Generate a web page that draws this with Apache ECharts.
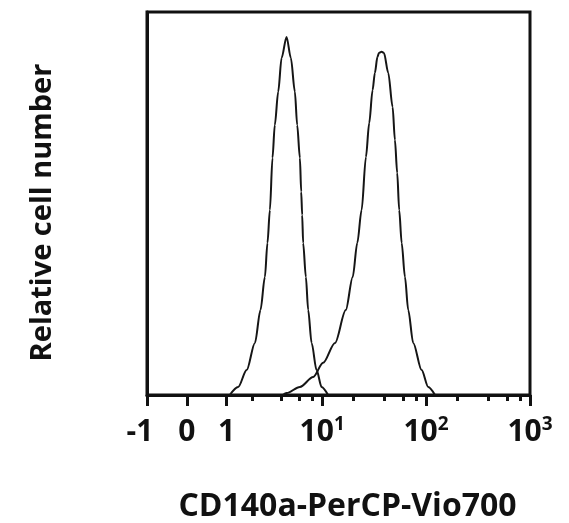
<!DOCTYPE html>
<html>
<head>
<meta charset="utf-8">
<script src="https://cdn.jsdelivr.net/npm/echarts@6/dist/echarts.min.js"></script>
<style>html,body{margin:0;padding:0;background:#fff;}#c{width:569px;height:523px;}</style>
</head>
<body>
<div id="c"></div>
<script>
// Fluorescence intensity (linear units) and relative cell number (% of plot height)
const leftX = [1.10, 1.40, 1.75, 2.15, 2.46, 2.73, 2.90, 3.07, 3.26, 3.44, 3.72, 4.02, 4.50, 4.96, 5.43, 5.72, 6.08, 6.26, 6.40, 6.54, 6.95, 7.32, 7.90, 8.83, 9.87, 11.4];
const leftY = [0, 2.1, 6.5, 13.6, 22.2, 30.8, 39.7, 48.3, 61.9, 70.5, 79.2, 88.0, 93.5, 88.0, 79.2, 70.5, 61.9, 53.1, 47.0, 39.7, 30.8, 22.2, 13.6, 6.5, 2.1, 0];
const rightX = [4.14, 4.50, 6.08, 8.19, 10.2, 13.3, 16.9, 19.7, 21.8, 24.0, 26.4, 28.4, 30.6, 32.2, 34.1, 35.2, 37.4, 39.4, 43.3, 47.7, 50.2, 52.8, 55.2, 58.3, 62.7, 67.4, 75.3, 90.7, 105, 122];
const rightY = [0, 0.5, 2.1, 4.7, 8.4, 13.6, 22.2, 30.8, 39.7, 48.3, 62.1, 71.0, 79.6, 84.1, 88.3, 89.3, 89.6, 89.3, 84.1, 75.2, 66.6, 58.0, 48.3, 39.7, 30.8, 22.2, 13.6, 6.5, 2.1, 0];
const majorTicks = [-1, 0, 1, 10, 100, 1000];
const majorLabels = ['-1', '0', '1', '10^1', '10^2', '10^3'];
const minorTicks = [2, 4, 6, 8, 20, 40, 60, 80, 200, 400, 600, 800];
const xTitle = 'CD140a-PerCP-Vio700';
const yTitle = 'Relative cell number';

// biexponential-like display transform (arcsinh, in decades)
const T = v => Math.asinh(v) / Math.LN10;
const xMin = T(-1), xMax = T(1000);
const FONT = '"Open Sans", "Noto Sans", sans-serif';

function labelFor(val) {
  let best = 0, bd = Infinity;
  majorTicks.forEach((t, i) => { const d = Math.abs(T(t) - val); if (d < bd) { bd = d; best = i; } });
  const s = majorLabels[best];
  if (s.indexOf('^') >= 0) {
    const p = s.split('^');
    return '{b|' + p[0] + '}{s|' + p[1] + '}';
  }
  if (s === '-1') return '{m|' + s + '}';
  return '{b|' + s + '}';
}

const chart = echarts.init(document.getElementById('c'), null, {renderer: 'canvas'});
const lineStyle = {color: '#151515', width: 2};
chart.setOption({
  animation: false,
  backgroundColor: '#fff',
  grid: {left: 147, right: 39, top: 12, bottom: 128, outerBoundsMode: 'none', containLabel: false,
    show: true, borderColor: '#111', borderWidth: 3, backgroundColor: 'transparent'},
  xAxis: [{
    type: 'value', min: xMin, max: xMax,
    name: xTitle, nameLocation: 'middle', nameGap: 96,
    nameTextStyle: {fontFamily: FONT, fontWeight: 'bold', fontSize: 32, color: '#111', padding: [0, 0, 0, 18]},
    axisLine: {show: true, onZero: false, lineStyle: {color: '#111', width: 3}},
    axisTick: {show: true, customValues: majorTicks.map(T), length: 11, lineStyle: {color: '#111', width: 3}},
    axisLabel: {show: true, customValues: majorTicks.map(T), margin: 20, formatter: labelFor,
      rich: {
        b: {fontFamily: FONT, fontWeight: 'bold', fontSize: 30, color: '#111', lineHeight: 32, verticalAlign: 'bottom'},
        m: {fontFamily: FONT, fontWeight: 'bold', fontSize: 30, color: '#111', lineHeight: 32, verticalAlign: 'bottom', padding: [0, 14, 0, 0]},
        s: {fontFamily: FONT, fontWeight: 'bold', fontSize: 19, color: '#111', lineHeight: 19, verticalAlign: 'top'}
      }},
    splitLine: {show: false}
  }, {
    type: 'value', min: xMin, max: xMax, position: 'bottom',
    axisLine: {show: false},
    axisTick: {show: true, customValues: minorTicks.map(T), length: 6, lineStyle: {color: '#111', width: 3}},
    axisLabel: {show: false},
    splitLine: {show: false}
  }],
  yAxis: {
    type: 'value', min: 0, max: 100,
    name: yTitle, nameLocation: 'middle', nameGap: 90,
    nameTextStyle: {fontFamily: FONT, fontWeight: 'bold', fontSize: 29, color: '#111', padding: [0, 18, 0, 0]},
    axisLine: {show: true, onZero: false, lineStyle: {color: '#111', width: 3}},
    axisTick: {show: false}, axisLabel: {show: false}, splitLine: {show: false}
  },
  series: [{
    type: 'line', xAxisIndex: 0, showSymbol: false, smooth: 0.3, smoothMonotone: 'x',
    lineStyle: lineStyle, data: leftX.map((x, i) => [T(x), leftY[i]])
  }, {
    type: 'line', xAxisIndex: 0, showSymbol: false, smooth: 0.3, smoothMonotone: 'x',
    lineStyle: lineStyle, data: rightX.map((x, i) => [T(x), rightY[i]])
  }]
});
</script>
</body>
</html>
